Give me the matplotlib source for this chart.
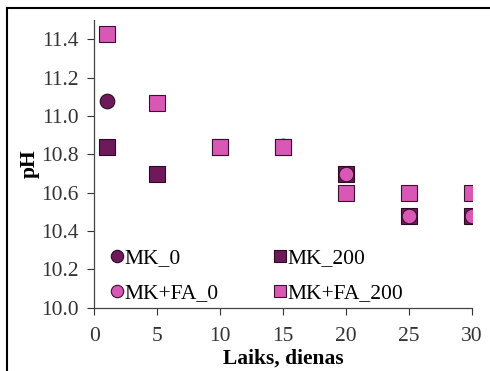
import matplotlib.pyplot as plt
from matplotlib.lines import Line2D

plt.rcParams['font.family'] = ['Liberation Serif', 'DejaVu Serif']

# days
days = [1, 5, 10, 15, 20, 25, 30]

# pH values per mix
mk_0 = [11.08, 10.70, 10.84, 10.845, 10.70, 10.48, 10.48]
mk_200 = [10.84, 10.70, 10.84, 10.84, 10.70, 10.48, 10.48]
mkfa_0 = [11.43, 11.07, 10.84, 10.84, 10.70, 10.48, 10.48]
mkfa_200 = [11.43, 11.07, 10.84, 10.84, 10.60, 10.60, 10.60]

dark = '#6e1a5a'
pink = '#d957b5'

fig = plt.figure(figsize=(4.9, 3.71), dpi=100)
ax = fig.add_axes([0.192, 0.1706, 0.771, 0.775])

ms_c = 10.5
ms_s = 11.0
ax.plot(days, mk_0, 'o', color=dark, mec='#2a0a22', mew=0.8, ms=ms_c, label='MK_0')
ax.plot(days, mk_200, 's', color=dark, mec='#2a0a22', mew=0.8, ms=ms_s, label='MK_200')
ax.plot(days, mkfa_0, 'o', color=pink, mec='#3a1030', mew=0.8, ms=ms_c, label='MK+FA_0')
ax.plot(days, mkfa_200, 's', color=pink, mec='#3a1030', mew=0.8, ms=ms_s, label='MK+FA_200')

fs = 15.5
ax.set_xlim(0, 30)
ax.set_ylim(10.0, 11.5)
ax.set_xticks([0, 5, 10, 15, 20, 25, 30])
ax.set_yticks([10.0, 10.2, 10.4, 10.6, 10.8, 11.0, 11.2, 11.4])
ax.set_yticklabels([f'{v:.1f}' for v in ax.get_yticks()])
ax.tick_params(direction='out', length=5, width=0.8, labelsize=fs, colors='#333333')
ax.tick_params(axis='x', pad=9)
ax.tick_params(axis='y', pad=6)
ax.spines['top'].set_visible(False)
ax.spines['right'].set_visible(False)
for s in ['left', 'bottom']:
    ax.spines[s].set_color('#444444')
    ax.spines[s].set_linewidth(0.9)

ax.set_xlabel('Laiks, dienas', fontsize=fs, fontweight='bold', labelpad=2)
ax.set_ylabel('pH', fontsize=fs, fontweight='bold', labelpad=1)

h, l = ax.get_legend_handles_labels()
order = [0, 2, 1, 3]
leg = ax.legend([h[i] for i in order], [l[i] for i in order], ncol=2,
                loc='lower left', bbox_to_anchor=(0.0, -0.045), frameon=False,
                fontsize=fs, handlelength=0.5, handletextpad=0.1,
                columnspacing=2.6, labelspacing=0.7, markerscale=0.85,
                borderpad=0.3)

# outer frame lines
fig.add_artist(Line2D([0.014, 0.014], [0, 0.978], color='black', lw=1.5))
fig.add_artist(Line2D([0.014, 1.0], [0.978, 0.978], color='black', lw=1.5))

fig.savefig('out.png', dpi=100)
